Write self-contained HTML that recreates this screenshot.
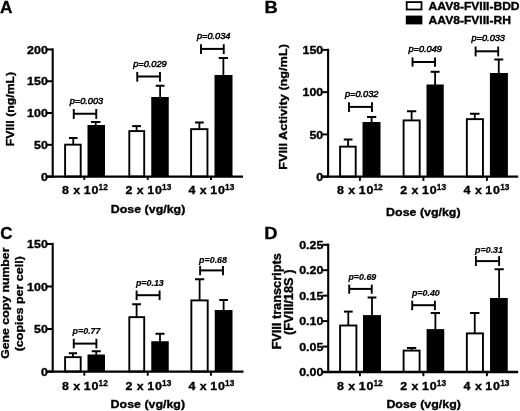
<!DOCTYPE html>
<html><head><meta charset="utf-8"><title>Figure</title>
<style>
html,body{margin:0;padding:0;background:#fff;}
body{width:520px;height:411px;overflow:hidden;}
svg{display:block;font-family:"Liberation Sans", sans-serif;filter:blur(0.4px);}
svg text{fill:#000;}
</style></head><body>
<svg width="520" height="411" viewBox="0 0 520 411">
<rect width="520" height="411" fill="#fff"/>
<line x1="73.25" y1="138.00" x2="73.25" y2="144.75" stroke="#000" stroke-width="1.8"/>
<line x1="69.00" y1="138.00" x2="77.50" y2="138.00" stroke="#000" stroke-width="2.0"/>
<rect x="65.10" y="144.65" width="15.60" height="31.95" fill="#fff" stroke="#000" stroke-width="1.9"/>
<line x1="95.75" y1="122.00" x2="95.75" y2="126.00" stroke="#000" stroke-width="1.8"/>
<line x1="91.00" y1="122.00" x2="100.50" y2="122.00" stroke="#000" stroke-width="2.0"/>
<rect x="87.50" y="125.00" width="17.50" height="51.60" fill="#000"/>
<line x1="73.75" y1="113.75" x2="96.25" y2="113.75" stroke="#000" stroke-width="2.0"/>
<line x1="73.75" y1="109.00" x2="73.75" y2="118.90" stroke="#000" stroke-width="1.9"/>
<line x1="96.25" y1="109.00" x2="96.25" y2="118.90" stroke="#000" stroke-width="1.9"/>
<text transform="translate(69.65 103.85) scale(1 1)" font-size="9.2" text-anchor="start" font-weight="normal" font-style="italic" stroke="#000" stroke-width="0.5" >p=0.003</text>
<line x1="136.60" y1="126.10" x2="136.60" y2="131.20" stroke="#000" stroke-width="1.8"/>
<line x1="132.20" y1="126.10" x2="141.00" y2="126.10" stroke="#000" stroke-width="2.0"/>
<rect x="129.30" y="131.10" width="14.90" height="45.50" fill="#fff" stroke="#000" stroke-width="1.9"/>
<line x1="160.12" y1="85.75" x2="160.12" y2="98.00" stroke="#000" stroke-width="1.8"/>
<line x1="155.75" y1="85.75" x2="164.50" y2="85.75" stroke="#000" stroke-width="2.0"/>
<rect x="151.25" y="97.00" width="17.50" height="79.60" fill="#000"/>
<line x1="137.25" y1="76.50" x2="160.00" y2="76.50" stroke="#000" stroke-width="2.0"/>
<line x1="137.25" y1="71.90" x2="137.25" y2="81.65" stroke="#000" stroke-width="1.9"/>
<line x1="160.00" y1="71.90" x2="160.00" y2="81.65" stroke="#000" stroke-width="1.9"/>
<text transform="translate(133.15 66.60) scale(1 1)" font-size="9.2" text-anchor="start" font-weight="normal" font-style="italic" stroke="#000" stroke-width="0.5" >p=0.029</text>
<line x1="199.38" y1="122.50" x2="199.38" y2="129.25" stroke="#000" stroke-width="1.8"/>
<line x1="195.00" y1="122.50" x2="203.75" y2="122.50" stroke="#000" stroke-width="2.0"/>
<rect x="191.10" y="129.15" width="16.35" height="47.45" fill="#fff" stroke="#000" stroke-width="1.9"/>
<line x1="223.38" y1="58.00" x2="223.38" y2="76.00" stroke="#000" stroke-width="1.8"/>
<line x1="218.75" y1="58.00" x2="228.00" y2="58.00" stroke="#000" stroke-width="2.0"/>
<rect x="214.50" y="75.00" width="18.00" height="101.60" fill="#000"/>
<line x1="201.00" y1="48.90" x2="223.75" y2="48.90" stroke="#000" stroke-width="2.0"/>
<line x1="201.00" y1="44.25" x2="201.00" y2="54.10" stroke="#000" stroke-width="1.9"/>
<line x1="223.75" y1="44.25" x2="223.75" y2="54.10" stroke="#000" stroke-width="1.9"/>
<text transform="translate(196.90 39.00) scale(1 1)" font-size="9.2" text-anchor="start" font-weight="normal" font-style="italic" stroke="#000" stroke-width="0.5" >p=0.034</text>
<line x1="52.70" y1="48.35" x2="52.70" y2="177.70" stroke="#000" stroke-width="2.1"/>
<line x1="46.90" y1="176.60" x2="243.00" y2="176.60" stroke="#000" stroke-width="2.3"/>
<line x1="46.90" y1="176.60" x2="52.70" y2="176.60" stroke="#000" stroke-width="2.0"/>
<text transform="translate(47.80 180.70) scale(1.075 1)" font-size="11.55" text-anchor="end" font-weight="bold" font-style="normal" stroke="#000" stroke-width="0.35" >0</text>
<line x1="46.90" y1="144.81" x2="52.70" y2="144.81" stroke="#000" stroke-width="2.0"/>
<text transform="translate(47.80 148.91) scale(1.075 1)" font-size="11.55" text-anchor="end" font-weight="bold" font-style="normal" stroke="#000" stroke-width="0.35" >50</text>
<line x1="46.90" y1="113.02" x2="52.70" y2="113.02" stroke="#000" stroke-width="2.0"/>
<text transform="translate(47.80 117.12) scale(1.075 1)" font-size="11.55" text-anchor="end" font-weight="bold" font-style="normal" stroke="#000" stroke-width="0.35" >100</text>
<line x1="46.90" y1="81.23" x2="52.70" y2="81.23" stroke="#000" stroke-width="2.0"/>
<text transform="translate(47.80 85.33) scale(1.075 1)" font-size="11.55" text-anchor="end" font-weight="bold" font-style="normal" stroke="#000" stroke-width="0.35" >150</text>
<line x1="46.90" y1="49.44" x2="52.70" y2="49.44" stroke="#000" stroke-width="2.0"/>
<text transform="translate(47.80 53.54) scale(1.075 1)" font-size="11.55" text-anchor="end" font-weight="bold" font-style="normal" stroke="#000" stroke-width="0.35" >200</text>
<line x1="84.30" y1="176.60" x2="84.30" y2="179.90" stroke="#000" stroke-width="1.9"/>
<text transform="translate(62.00 194.10) scale(1.075 1)" font-size="11.55" font-weight="bold" stroke="#000" stroke-width="0.35" word-spacing="0.9">8 x <tspan dx="-0.8" letter-spacing="0.8">10</tspan></text>
<text x="98.60" y="190.40" font-size="8.3" font-weight="bold" stroke="#000" stroke-width="0.3">12</text>
<line x1="147.70" y1="176.60" x2="147.70" y2="179.90" stroke="#000" stroke-width="1.9"/>
<text transform="translate(125.50 194.10) scale(1.075 1)" font-size="11.55" font-weight="bold" stroke="#000" stroke-width="0.35" word-spacing="0.9">2 x <tspan dx="-0.8" letter-spacing="0.8">10</tspan></text>
<text x="162.10" y="190.40" font-size="8.3" font-weight="bold" stroke="#000" stroke-width="0.3">13</text>
<line x1="211.00" y1="176.60" x2="211.00" y2="179.90" stroke="#000" stroke-width="1.9"/>
<text transform="translate(188.50 194.10) scale(1.075 1)" font-size="11.55" font-weight="bold" stroke="#000" stroke-width="0.35" word-spacing="0.9">4 x <tspan dx="-0.8" letter-spacing="0.8">10</tspan></text>
<text x="225.10" y="190.40" font-size="8.3" font-weight="bold" stroke="#000" stroke-width="0.3">13</text>
<text transform="translate(13.60,146.20) rotate(-90) scale(1.075 1)" font-size="11.44" font-weight="bold" stroke="#000" stroke-width="0.35" text-anchor="start">FVIII (ng/mL)</text>
<text transform="translate(110.80 213.30) scale(1.075 1)" font-size="11.55" text-anchor="start" font-weight="bold" font-style="normal" stroke="#000" stroke-width="0.35" >Dose (vg/kg)</text>
<text transform="translate(0.10 12.80) scale(1.0 1)" font-size="17.3" text-anchor="start" font-weight="bold" font-style="normal" stroke="#000" stroke-width="0.3" >A</text>
<line x1="348.12" y1="139.50" x2="348.12" y2="146.75" stroke="#000" stroke-width="1.8"/>
<line x1="343.75" y1="139.50" x2="352.50" y2="139.50" stroke="#000" stroke-width="2.0"/>
<rect x="340.10" y="146.65" width="15.60" height="30.05" fill="#fff" stroke="#000" stroke-width="1.9"/>
<line x1="371.62" y1="117.00" x2="371.62" y2="123.00" stroke="#000" stroke-width="1.8"/>
<line x1="367.00" y1="117.00" x2="376.25" y2="117.00" stroke="#000" stroke-width="2.0"/>
<rect x="362.50" y="122.00" width="18.00" height="54.70" fill="#000"/>
<line x1="349.00" y1="106.90" x2="372.00" y2="106.90" stroke="#000" stroke-width="2.0"/>
<line x1="349.00" y1="102.25" x2="349.00" y2="111.90" stroke="#000" stroke-width="1.9"/>
<line x1="372.00" y1="102.25" x2="372.00" y2="111.90" stroke="#000" stroke-width="1.9"/>
<text transform="translate(344.90 97.00) scale(1 1)" font-size="9.2" text-anchor="start" font-weight="normal" font-style="italic" stroke="#000" stroke-width="0.5" >p=0.032</text>
<line x1="411.62" y1="111.25" x2="411.62" y2="120.50" stroke="#000" stroke-width="1.8"/>
<line x1="407.00" y1="111.25" x2="416.25" y2="111.25" stroke="#000" stroke-width="2.0"/>
<rect x="403.60" y="120.40" width="16.10" height="56.30" fill="#fff" stroke="#000" stroke-width="1.9"/>
<line x1="435.10" y1="71.80" x2="435.10" y2="85.50" stroke="#000" stroke-width="1.8"/>
<line x1="430.60" y1="71.80" x2="439.60" y2="71.80" stroke="#000" stroke-width="2.0"/>
<rect x="426.50" y="84.50" width="17.25" height="92.20" fill="#000"/>
<line x1="412.50" y1="62.00" x2="435.00" y2="62.00" stroke="#000" stroke-width="2.0"/>
<line x1="412.50" y1="57.50" x2="412.50" y2="66.65" stroke="#000" stroke-width="1.9"/>
<line x1="435.00" y1="57.50" x2="435.00" y2="66.65" stroke="#000" stroke-width="1.9"/>
<text transform="translate(408.40 52.10) scale(1 1)" font-size="9.2" text-anchor="start" font-weight="normal" font-style="italic" stroke="#000" stroke-width="0.5" >p=0.049</text>
<line x1="474.75" y1="113.75" x2="474.75" y2="119.25" stroke="#000" stroke-width="1.8"/>
<line x1="470.00" y1="113.75" x2="479.50" y2="113.75" stroke="#000" stroke-width="2.0"/>
<rect x="466.85" y="119.15" width="16.10" height="57.55" fill="#fff" stroke="#000" stroke-width="1.9"/>
<line x1="498.75" y1="59.50" x2="498.75" y2="74.00" stroke="#000" stroke-width="1.8"/>
<line x1="494.25" y1="59.50" x2="503.25" y2="59.50" stroke="#000" stroke-width="2.0"/>
<rect x="489.90" y="73.00" width="18.00" height="103.70" fill="#000"/>
<line x1="475.60" y1="51.30" x2="498.20" y2="51.30" stroke="#000" stroke-width="2.0"/>
<line x1="475.60" y1="46.50" x2="475.60" y2="56.40" stroke="#000" stroke-width="1.9"/>
<line x1="498.20" y1="46.50" x2="498.20" y2="56.40" stroke="#000" stroke-width="1.9"/>
<text transform="translate(471.50 41.40) scale(1 1)" font-size="9.2" text-anchor="start" font-weight="normal" font-style="italic" stroke="#000" stroke-width="0.5" >p=0.033</text>
<line x1="328.10" y1="48.80" x2="328.10" y2="177.80" stroke="#000" stroke-width="2.1"/>
<line x1="322.30" y1="176.70" x2="518.20" y2="176.70" stroke="#000" stroke-width="2.3"/>
<line x1="322.30" y1="176.70" x2="328.10" y2="176.70" stroke="#000" stroke-width="2.0"/>
<text transform="translate(323.20 180.80) scale(1.075 1)" font-size="11.55" text-anchor="end" font-weight="bold" font-style="normal" stroke="#000" stroke-width="0.35" >0</text>
<line x1="322.30" y1="134.43" x2="328.10" y2="134.43" stroke="#000" stroke-width="2.0"/>
<text transform="translate(323.20 138.53) scale(1.075 1)" font-size="11.55" text-anchor="end" font-weight="bold" font-style="normal" stroke="#000" stroke-width="0.35" >50</text>
<line x1="322.30" y1="92.16" x2="328.10" y2="92.16" stroke="#000" stroke-width="2.0"/>
<text transform="translate(323.20 96.26) scale(1.075 1)" font-size="11.55" text-anchor="end" font-weight="bold" font-style="normal" stroke="#000" stroke-width="0.35" >100</text>
<line x1="322.30" y1="49.89" x2="328.10" y2="49.89" stroke="#000" stroke-width="2.0"/>
<text transform="translate(323.20 53.99) scale(1.075 1)" font-size="11.55" text-anchor="end" font-weight="bold" font-style="normal" stroke="#000" stroke-width="0.35" >150</text>
<line x1="359.90" y1="176.70" x2="359.90" y2="180.90" stroke="#000" stroke-width="1.9"/>
<text transform="translate(336.90 194.10) scale(1.075 1)" font-size="11.55" font-weight="bold" stroke="#000" stroke-width="0.35" word-spacing="0.9">8 x <tspan dx="-0.8" letter-spacing="0.8">10</tspan></text>
<text x="373.50" y="190.40" font-size="8.3" font-weight="bold" stroke="#000" stroke-width="0.3">12</text>
<line x1="423.40" y1="176.70" x2="423.40" y2="180.90" stroke="#000" stroke-width="1.9"/>
<text transform="translate(400.20 194.10) scale(1.075 1)" font-size="11.55" font-weight="bold" stroke="#000" stroke-width="0.35" word-spacing="0.9">2 x <tspan dx="-0.8" letter-spacing="0.8">10</tspan></text>
<text x="436.80" y="190.40" font-size="8.3" font-weight="bold" stroke="#000" stroke-width="0.3">13</text>
<line x1="486.90" y1="176.70" x2="486.90" y2="180.90" stroke="#000" stroke-width="1.9"/>
<text transform="translate(463.60 194.10) scale(1.075 1)" font-size="11.55" font-weight="bold" stroke="#000" stroke-width="0.35" word-spacing="0.9">4 x <tspan dx="-0.8" letter-spacing="0.8">10</tspan></text>
<text x="500.20" y="190.40" font-size="8.3" font-weight="bold" stroke="#000" stroke-width="0.3">13</text>
<text transform="translate(286.80,169.80) rotate(-90) scale(1.075 1)" font-size="11.80" font-weight="bold" stroke="#000" stroke-width="0.35" text-anchor="start">FVIII Activity (ng/mL)</text>
<text transform="translate(386.10 215.80) scale(1.075 1)" font-size="11.55" text-anchor="start" font-weight="bold" font-style="normal" stroke="#000" stroke-width="0.35" >Dose (vg/kg)</text>
<text transform="translate(264.50 12.90) scale(1.06 1)" font-size="17.3" text-anchor="start" font-weight="bold" font-style="normal" stroke="#000" stroke-width="0.3" >B</text>
<line x1="72.88" y1="353.25" x2="72.88" y2="357.25" stroke="#000" stroke-width="1.8"/>
<line x1="68.75" y1="353.25" x2="77.00" y2="353.25" stroke="#000" stroke-width="2.0"/>
<rect x="65.10" y="357.15" width="15.60" height="14.40" fill="#fff" stroke="#000" stroke-width="1.9"/>
<line x1="96.25" y1="351.25" x2="96.25" y2="355.50" stroke="#000" stroke-width="1.8"/>
<line x1="91.75" y1="351.25" x2="100.75" y2="351.25" stroke="#000" stroke-width="2.0"/>
<rect x="87.50" y="354.50" width="17.50" height="17.05" fill="#000"/>
<line x1="73.75" y1="343.60" x2="96.40" y2="343.60" stroke="#000" stroke-width="2.0"/>
<line x1="73.75" y1="338.80" x2="73.75" y2="348.40" stroke="#000" stroke-width="1.9"/>
<line x1="96.40" y1="338.80" x2="96.40" y2="348.40" stroke="#000" stroke-width="1.9"/>
<text transform="translate(72.60 334.20) scale(1 1)" font-size="8.9" text-anchor="start" font-weight="bold" font-style="italic" stroke="#000" stroke-width="0.2" >p=0.77</text>
<line x1="136.60" y1="304.25" x2="136.60" y2="317.25" stroke="#000" stroke-width="1.8"/>
<line x1="132.20" y1="304.25" x2="141.00" y2="304.25" stroke="#000" stroke-width="2.0"/>
<rect x="129.30" y="317.15" width="14.90" height="54.40" fill="#fff" stroke="#000" stroke-width="1.9"/>
<line x1="160.00" y1="333.75" x2="160.00" y2="342.25" stroke="#000" stroke-width="1.8"/>
<line x1="155.50" y1="333.75" x2="164.50" y2="333.75" stroke="#000" stroke-width="2.0"/>
<rect x="151.25" y="341.25" width="17.50" height="30.30" fill="#000"/>
<line x1="136.60" y1="295.20" x2="159.60" y2="295.20" stroke="#000" stroke-width="2.0"/>
<line x1="136.60" y1="290.50" x2="136.60" y2="300.10" stroke="#000" stroke-width="1.9"/>
<line x1="159.60" y1="290.50" x2="159.60" y2="300.10" stroke="#000" stroke-width="1.9"/>
<text transform="translate(135.90 286.30) scale(1 1)" font-size="8.9" text-anchor="start" font-weight="bold" font-style="italic" stroke="#000" stroke-width="0.2" >p=0.13</text>
<line x1="199.62" y1="279.25" x2="199.62" y2="300.50" stroke="#000" stroke-width="1.8"/>
<line x1="195.00" y1="279.25" x2="204.25" y2="279.25" stroke="#000" stroke-width="2.0"/>
<rect x="191.35" y="300.40" width="16.35" height="71.15" fill="#fff" stroke="#000" stroke-width="1.9"/>
<line x1="223.62" y1="300.00" x2="223.62" y2="311.00" stroke="#000" stroke-width="1.8"/>
<line x1="219.25" y1="300.00" x2="228.00" y2="300.00" stroke="#000" stroke-width="2.0"/>
<rect x="214.75" y="310.00" width="17.75" height="61.55" fill="#000"/>
<line x1="200.10" y1="270.40" x2="223.00" y2="270.40" stroke="#000" stroke-width="2.0"/>
<line x1="200.10" y1="265.90" x2="200.10" y2="275.30" stroke="#000" stroke-width="1.9"/>
<line x1="223.00" y1="265.90" x2="223.00" y2="275.30" stroke="#000" stroke-width="1.9"/>
<text transform="translate(199.10 263.00) scale(1 1)" font-size="8.9" text-anchor="start" font-weight="bold" font-style="italic" stroke="#000" stroke-width="0.2" >p=0.68</text>
<line x1="52.70" y1="242.85" x2="52.70" y2="372.65" stroke="#000" stroke-width="2.1"/>
<line x1="46.90" y1="371.55" x2="243.50" y2="371.55" stroke="#000" stroke-width="2.3"/>
<line x1="46.90" y1="371.55" x2="52.70" y2="371.55" stroke="#000" stroke-width="2.0"/>
<text transform="translate(47.80 375.65) scale(1.075 1)" font-size="11.55" text-anchor="end" font-weight="bold" font-style="normal" stroke="#000" stroke-width="0.35" >0</text>
<line x1="46.90" y1="329.02" x2="52.70" y2="329.02" stroke="#000" stroke-width="2.0"/>
<text transform="translate(47.80 333.12) scale(1.075 1)" font-size="11.55" text-anchor="end" font-weight="bold" font-style="normal" stroke="#000" stroke-width="0.35" >50</text>
<line x1="46.90" y1="286.49" x2="52.70" y2="286.49" stroke="#000" stroke-width="2.0"/>
<text transform="translate(47.80 290.59) scale(1.075 1)" font-size="11.55" text-anchor="end" font-weight="bold" font-style="normal" stroke="#000" stroke-width="0.35" >100</text>
<line x1="46.90" y1="243.96" x2="52.70" y2="243.96" stroke="#000" stroke-width="2.0"/>
<text transform="translate(47.80 248.06) scale(1.075 1)" font-size="11.55" text-anchor="end" font-weight="bold" font-style="normal" stroke="#000" stroke-width="0.35" >150</text>
<line x1="84.30" y1="371.55" x2="84.30" y2="375.75" stroke="#000" stroke-width="1.9"/>
<text transform="translate(62.00 389.70) scale(1.075 1)" font-size="11.55" font-weight="bold" stroke="#000" stroke-width="0.35" word-spacing="0.9">8 x <tspan dx="-0.8" letter-spacing="0.8">10</tspan></text>
<text x="98.60" y="386.00" font-size="8.3" font-weight="bold" stroke="#000" stroke-width="0.3">12</text>
<line x1="147.70" y1="371.55" x2="147.70" y2="375.75" stroke="#000" stroke-width="1.9"/>
<text transform="translate(125.50 389.70) scale(1.075 1)" font-size="11.55" font-weight="bold" stroke="#000" stroke-width="0.35" word-spacing="0.9">2 x <tspan dx="-0.8" letter-spacing="0.8">10</tspan></text>
<text x="162.10" y="386.00" font-size="8.3" font-weight="bold" stroke="#000" stroke-width="0.3">13</text>
<line x1="211.00" y1="371.55" x2="211.00" y2="375.75" stroke="#000" stroke-width="1.9"/>
<text transform="translate(188.50 389.70) scale(1.075 1)" font-size="11.55" font-weight="bold" stroke="#000" stroke-width="0.35" word-spacing="0.9">4 x <tspan dx="-0.8" letter-spacing="0.8">10</tspan></text>
<text x="225.10" y="386.00" font-size="8.3" font-weight="bold" stroke="#000" stroke-width="0.3">13</text>
<text transform="translate(8.80,358.80) rotate(-90) scale(1.075 1)" font-size="11.44" font-weight="bold" stroke="#000" stroke-width="0.35" text-anchor="start">Gene copy number</text>
<text transform="translate(22.80,351.30) rotate(-90) scale(1.075 1)" font-size="11.63" font-weight="bold" stroke="#000" stroke-width="0.35" text-anchor="start">(copies per cell)</text>
<text transform="translate(110.60 408.20) scale(1.075 1)" font-size="11.55" text-anchor="start" font-weight="bold" font-style="normal" stroke="#000" stroke-width="0.35" >Dose (vg/kg)</text>
<text transform="translate(0.20 239.40) scale(0.98 1)" font-size="17.3" text-anchor="start" font-weight="bold" font-style="normal" stroke="#000" stroke-width="0.3" >C</text>
<line x1="348.30" y1="311.60" x2="348.30" y2="325.60" stroke="#000" stroke-width="1.8"/>
<line x1="343.90" y1="311.60" x2="352.70" y2="311.60" stroke="#000" stroke-width="2.0"/>
<rect x="340.10" y="325.50" width="16.30" height="46.50" fill="#fff" stroke="#000" stroke-width="1.9"/>
<line x1="372.00" y1="297.50" x2="372.00" y2="316.10" stroke="#000" stroke-width="1.8"/>
<line x1="367.60" y1="297.50" x2="376.40" y2="297.50" stroke="#000" stroke-width="2.0"/>
<rect x="363.00" y="315.10" width="18.00" height="56.90" fill="#000"/>
<line x1="349.20" y1="288.90" x2="371.75" y2="288.90" stroke="#000" stroke-width="2.0"/>
<line x1="349.20" y1="284.60" x2="349.20" y2="293.70" stroke="#000" stroke-width="1.9"/>
<line x1="371.75" y1="284.60" x2="371.75" y2="293.70" stroke="#000" stroke-width="1.9"/>
<text transform="translate(348.40 279.90) scale(1 1)" font-size="8.9" text-anchor="start" font-weight="bold" font-style="italic" stroke="#000" stroke-width="0.2" >p=0.69</text>
<line x1="411.62" y1="348.00" x2="411.62" y2="350.70" stroke="#000" stroke-width="1.8"/>
<line x1="407.00" y1="348.00" x2="416.25" y2="348.00" stroke="#000" stroke-width="2.0"/>
<rect x="403.60" y="350.60" width="16.00" height="21.40" fill="#fff" stroke="#000" stroke-width="1.9"/>
<line x1="435.38" y1="313.00" x2="435.38" y2="330.10" stroke="#000" stroke-width="1.8"/>
<line x1="430.75" y1="313.00" x2="440.00" y2="313.00" stroke="#000" stroke-width="2.0"/>
<rect x="426.60" y="329.10" width="17.65" height="42.90" fill="#000"/>
<line x1="412.20" y1="305.20" x2="434.90" y2="305.20" stroke="#000" stroke-width="2.0"/>
<line x1="412.20" y1="300.70" x2="412.20" y2="310.20" stroke="#000" stroke-width="1.9"/>
<line x1="434.90" y1="300.70" x2="434.90" y2="310.20" stroke="#000" stroke-width="1.9"/>
<text transform="translate(411.90 296.20) scale(1 1)" font-size="8.9" text-anchor="start" font-weight="bold" font-style="italic" stroke="#000" stroke-width="0.2" >p=0.40</text>
<line x1="474.75" y1="313.00" x2="474.75" y2="333.50" stroke="#000" stroke-width="1.8"/>
<line x1="470.00" y1="313.00" x2="479.50" y2="313.00" stroke="#000" stroke-width="2.0"/>
<rect x="466.85" y="333.40" width="16.10" height="38.60" fill="#fff" stroke="#000" stroke-width="1.9"/>
<line x1="499.12" y1="269.25" x2="499.12" y2="299.00" stroke="#000" stroke-width="1.8"/>
<line x1="494.50" y1="269.25" x2="503.75" y2="269.25" stroke="#000" stroke-width="2.0"/>
<rect x="490.00" y="298.00" width="17.75" height="74.00" fill="#000"/>
<line x1="475.90" y1="261.10" x2="499.10" y2="261.10" stroke="#000" stroke-width="2.0"/>
<line x1="475.90" y1="256.10" x2="475.90" y2="266.00" stroke="#000" stroke-width="1.9"/>
<line x1="499.10" y1="256.10" x2="499.10" y2="266.00" stroke="#000" stroke-width="1.9"/>
<text transform="translate(475.10 252.60) scale(1 1)" font-size="8.9" text-anchor="start" font-weight="bold" font-style="italic" stroke="#000" stroke-width="0.2" >p=0.31</text>
<line x1="328.20" y1="243.65" x2="328.20" y2="373.10" stroke="#000" stroke-width="2.1"/>
<line x1="322.40" y1="372.00" x2="518.20" y2="372.00" stroke="#000" stroke-width="2.3"/>
<line x1="322.40" y1="372.00" x2="328.20" y2="372.00" stroke="#000" stroke-width="2.0"/>
<text transform="translate(323.30 376.10) scale(1.075 1)" font-size="11.55" text-anchor="end" font-weight="bold" font-style="normal" stroke="#000" stroke-width="0.35" >0.00</text>
<line x1="322.40" y1="346.55" x2="328.20" y2="346.55" stroke="#000" stroke-width="2.0"/>
<text transform="translate(323.30 350.65) scale(1.075 1)" font-size="11.55" text-anchor="end" font-weight="bold" font-style="normal" stroke="#000" stroke-width="0.35" >0.05</text>
<line x1="322.40" y1="321.10" x2="328.20" y2="321.10" stroke="#000" stroke-width="2.0"/>
<text transform="translate(323.30 325.20) scale(1.075 1)" font-size="11.55" text-anchor="end" font-weight="bold" font-style="normal" stroke="#000" stroke-width="0.35" >0.10</text>
<line x1="322.40" y1="295.65" x2="328.20" y2="295.65" stroke="#000" stroke-width="2.0"/>
<text transform="translate(323.30 299.75) scale(1.075 1)" font-size="11.55" text-anchor="end" font-weight="bold" font-style="normal" stroke="#000" stroke-width="0.35" >0.15</text>
<line x1="322.40" y1="270.20" x2="328.20" y2="270.20" stroke="#000" stroke-width="2.0"/>
<text transform="translate(323.30 274.30) scale(1.075 1)" font-size="11.55" text-anchor="end" font-weight="bold" font-style="normal" stroke="#000" stroke-width="0.35" >0.20</text>
<line x1="322.40" y1="244.75" x2="328.20" y2="244.75" stroke="#000" stroke-width="2.0"/>
<text transform="translate(323.30 248.85) scale(1.075 1)" font-size="11.55" text-anchor="end" font-weight="bold" font-style="normal" stroke="#000" stroke-width="0.35" >0.25</text>
<line x1="359.90" y1="372.00" x2="359.90" y2="376.20" stroke="#000" stroke-width="1.9"/>
<text transform="translate(336.90 389.70) scale(1.075 1)" font-size="11.55" font-weight="bold" stroke="#000" stroke-width="0.35" word-spacing="0.9">8 x <tspan dx="-0.8" letter-spacing="0.8">10</tspan></text>
<text x="373.50" y="386.00" font-size="8.3" font-weight="bold" stroke="#000" stroke-width="0.3">12</text>
<line x1="423.40" y1="372.00" x2="423.40" y2="376.20" stroke="#000" stroke-width="1.9"/>
<text transform="translate(400.20 389.70) scale(1.075 1)" font-size="11.55" font-weight="bold" stroke="#000" stroke-width="0.35" word-spacing="0.9">2 x <tspan dx="-0.8" letter-spacing="0.8">10</tspan></text>
<text x="436.80" y="386.00" font-size="8.3" font-weight="bold" stroke="#000" stroke-width="0.3">13</text>
<line x1="486.90" y1="372.00" x2="486.90" y2="376.20" stroke="#000" stroke-width="1.9"/>
<text transform="translate(463.60 389.70) scale(1.075 1)" font-size="11.55" font-weight="bold" stroke="#000" stroke-width="0.35" word-spacing="0.9">4 x <tspan dx="-0.8" letter-spacing="0.8">10</tspan></text>
<text x="500.20" y="386.00" font-size="8.3" font-weight="bold" stroke="#000" stroke-width="0.3">13</text>
<text transform="translate(281.00,349.50) rotate(-90) scale(1.075 1)" font-size="11.86" font-weight="bold" stroke="#000" stroke-width="0.35" text-anchor="start">FVIII transcripts</text>
<text transform="translate(293.20,335.00) rotate(-90) scale(1.075 1)" font-size="11.91" font-weight="bold" stroke="#000" stroke-width="0.35" text-anchor="start">(FVIII/18S )</text>
<text transform="translate(386.40 408.30) scale(1.075 1)" font-size="11.55" text-anchor="start" font-weight="bold" font-style="normal" stroke="#000" stroke-width="0.35" >Dose (vg/kg)</text>
<text transform="translate(264.30 239.40) scale(1.06 1)" font-size="17.3" text-anchor="start" font-weight="bold" font-style="normal" stroke="#000" stroke-width="0.3" >D</text>
<rect x="406.7" y="2.1" width="14.8" height="7.4" fill="#fff" stroke="#000" stroke-width="1.8"/>
<rect x="405.8" y="15.6" width="16.6" height="8.8" fill="#000"/>
<text transform="translate(428.60 9.90) scale(1.075 1)" font-size="11.25" text-anchor="start" font-weight="bold" font-style="normal" stroke="#000" stroke-width="0.35" >AAV8-FVIII-BDD</text>
<text transform="translate(428.60 24.40) scale(1.075 1)" font-size="11.25" text-anchor="start" font-weight="bold" font-style="normal" stroke="#000" stroke-width="0.35" >AAV8-FVIII-RH</text>
</svg>
</body></html>
